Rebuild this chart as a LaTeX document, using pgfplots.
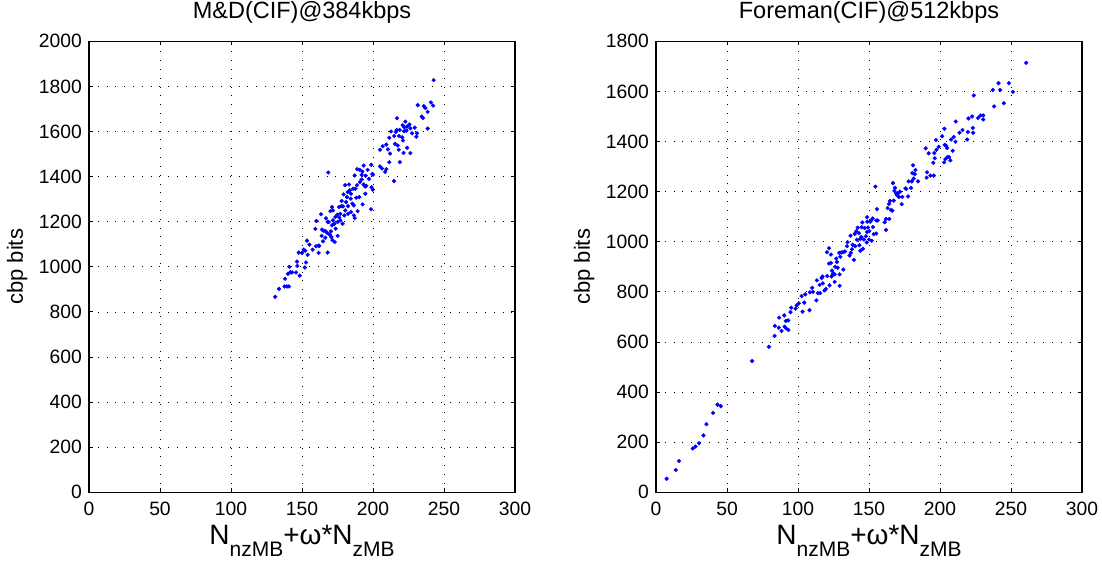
\documentclass[border=0pt]{standalone}
\usepackage{pgfplots}
\pgfplotsset{compat=1.18}
\usepackage{fontspec}
\setmainfont{Liberation Sans}
\definecolor{dotblue}{RGB}{0,0,255}
\pgfplotsset{
  every axis title shift=0pt,
  mlstyle/.style={
    scale only axis,
    width=426pt, height=451pt,
    xmin=0, xmax=300,
    xtick={0,50,...,300},
    ymin=0,
    grid=major,
    grid style={black, line width=0.8pt, dash pattern=on 0.8pt off 8pt},
    axis line style={black, line width=1.2pt},
    tick style={black, line width=0.9pt},
    major tick length=4pt,
    tick align=inside,
    xtick pos=both, ytick pos=both,
    /pgf/number format/assume math mode=true,
    /pgf/number format/1000 sep={},
    tick label style={font=\fontsize{19.3}{19.3}\selectfont},
    xticklabel style={inner sep=0pt, anchor=north, yshift=-10pt},
    yticklabel style={inner sep=0pt, anchor=east, xshift=-7pt},
    title style={font=\fontsize{23.5}{23.5}\selectfont, at={(axis description cs:0.5,1)}, anchor=base, yshift=23pt},
    ylabel style={font=\fontsize{22}{22}\selectfont, at={(axis description cs:-0.155,0.5)}, anchor=base},
    xlabel style={font=\fontsize{28}{28}\selectfont, at={(axis description cs:0.5,-0.1147)}, anchor=base},
    xlabel={N\raisebox{-12pt}{\fontsize{21}{21}\selectfont nzMB}+ω*N\raisebox{-12pt}{\fontsize{21}{21}\selectfont zMB}},
    ylabel={cbp bits},
  }
}
\begin{document}
\begin{tikzpicture}
\useasboundingbox (0,0) rectangle (1102pt,563pt);
\begin{axis}[mlstyle, at={(89pt,70.7pt)}, anchor=south west,
  ymax=2000, ytick={0,200,...,2000},
  title={M\&D(CIF)@384kbps}]
\addplot[only marks, mark=*, mark size=1.9pt, mark options={draw=dotblue, fill=dotblue}] table {
242.7 1828
231.5 1717
240.8 1729
242.3 1715
235.7 1713
236.9 1704
238.5 1687
234.3 1666
235.2 1660
238.5 1613
216.9 1659
222.8 1644
225.6 1631
220.9 1628
224.0 1622
222.1 1619
226.3 1614
218.8 1607
216.7 1607
212.7 1600
216.0 1598
221.9 1601
223.6 1604
227.5 1592
229.4 1617
231.0 1592
230.5 1577
218.3 1580
220.6 1574
221.1 1560
215.0 1580
211.5 1572
215.5 1545
209.4 1542
206.8 1535
204.9 1519
210.5 1521
217.4 1538
218.1 1519
224.0 1528
221.5 1505
226.3 1504
212.0 1502
218.9 1464
211.5 1464
204.9 1445
206.3 1436
208.5 1421
209.4 1433
214.8 1380
168.5 1418
198.8 1452
199.5 1412
200.0 1409
193.4 1449
190.6 1430
192.5 1422
196.2 1430
194.8 1404
197.2 1390
188.8 1433
187.1 1405
192.0 1408
192.0 1387
190.8 1376
193.4 1365
194.4 1356
195.3 1359
188.8 1362
187.6 1346
186.0 1346
183.1 1365
180.3 1362
183.6 1339
199.0 1353
199.9 1342
194.6 1324
184.5 1324
182.2 1331
179.3 1321
190.3 1309
188.2 1306
184.3 1302
181.7 1309
181.0 1287
177.9 1292
176.1 1265
182.4 1269
178.9 1268
185.5 1280
186.5 1272
192.7 1277
189.2 1247
184.5 1243
182.4 1235
180.5 1250
177.7 1269
171.1 1265
171.8 1250
177.0 1235
174.9 1231
179.8 1228
186.5 1228
187.1 1216
198.6 1255
170.0 1247
166.9 1215
163.4 1233
173.5 1221
176.3 1218
175.1 1199
177.0 1206
178.6 1191
172.8 1191
171.8 1206
168.8 1199
171.1 1184
168.1 1199
173.7 1169
160.1 1203
159.4 1168
164.1 1165
165.3 1159
166.5 1159
170.4 1157
167.8 1150
169.5 1143
163.8 1137
175.1 1137
166.4 1129
170.7 1132
171.4 1118
173.1 1110
168.1 1063
164.8 1113
162.2 1093
159.9 1091
161.5 1094
155.2 1098
153.5 1116
157.5 1076
161.7 1062
151.2 1076
152.3 1071
147.7 1063
150.0 1062
154.0 1053
152.8 1019
146.5 1023
146.7 1004
152.0 997
141.1 1000
141.8 976
143.0 975
140.1 969
145.8 975
148.4 961
138.0 947
137.7 913
139.4 913
140.8 913
133.8 902
131.1 867
};
\end{axis}
\begin{axis}[mlstyle, at={(656pt,70.7pt)}, anchor=south west,
  ymax=1800, ytick={0,200,...,1800},
  title={Foreman(CIF)@512kbps}]
\addplot[only marks, mark=*, mark size=1.9pt, mark options={draw=dotblue, fill=dotblue}] table {
7.5 54
13.9 89
16.2 125
25.9 175
27.8 183
30.3 196
33.4 227
35.5 272
40.2 317
43.3 350
45.6 344
67.7 524
79.5 581
83.5 624
83.7 664
86.7 697
86.5 657
88.4 644
90.3 706
90.5 661
91.4 684
93.1 686
91.7 654
93.3 648
94.7 719
95.2 737
98.3 733
99.0 746
100.6 754
103.2 721
102.5 783
104.4 757
105.1 790
108.1 727
108.4 798
110.0 816
110.5 800
112.9 766
113.3 846
114.0 795
115.6 795
115.2 828
116.6 855
117.5 834
117.3 861
118.7 806
119.6 812
120.4 958
121.8 974
121.8 913
120.6 863
122.2 826
123.2 915
123.2 949
123.6 861
123.9 885
124.4 868
124.8 874
125.8 870
125.8 840
126.2 900
126.9 933
127.4 919
127.9 896
129.3 824
129.3 870
129.0 956
129.8 940
130.5 957
131.7 958
131.9 889
133.0 961
134.5 982
134.9 998
136.3 945
137.0 1024
137.2 956
138.0 970
138.5 988
139.4 928
139.9 1031
140.3 982
141.0 1042
141.5 1008
142.0 1056
142.9 1034
143.2 986
143.9 1011
143.9 964
144.6 1019
144.8 1058
145.3 1077
145.7 972
146.4 1009
146.9 1055
147.9 1022
148.4 997
148.6 1098
148.6 1039
148.8 1080
149.3 1057
150.0 1009
150.2 1042
150.9 1080
151.6 1086
151.9 1004
152.6 1093
152.8 1059
153.3 1030
154.5 1220
155.1 1085
155.6 1130
156.1 1085
155.1 1033
161.0 1078
162.0 1091
162.0 1047
163.1 1134
164.1 1151
164.3 1091
164.8 1163
165.5 1127
166.4 1124
166.9 1234
167.4 1164
167.9 1203
168.3 1215
169.2 1192
169.9 1185
170.4 1194
171.1 1179
171.8 1200
173.0 1150
173.5 1179
175.6 1213
176.3 1211
177.5 1181
177.9 1241
179.6 1215
180.1 1241
180.5 1274
181.0 1305
181.5 1252
182.2 1270
182.7 1286
184.5 1241
189.9 1373
190.6 1256
190.9 1277
192.0 1353
193.2 1264
195.3 1315
195.6 1264
196.0 1354
196.3 1333
197.2 1406
197.5 1367
199.1 1379
201.5 1421
202.9 1317
203.1 1451
203.3 1387
203.8 1330
204.3 1383
205.0 1374
205.2 1338
206.4 1338
207.3 1325
207.8 1408
208.9 1363
209.7 1418
210.9 1399
211.1 1480
213.7 1435
215.8 1446
219.1 1408
219.6 1438
220.0 1492
222.6 1500
223.1 1454
223.3 1435
223.8 1584
226.8 1494
228.5 1504
230.4 1504
230.4 1488
237.2 1606
238.1 1540
241.2 1633
242.4 1606
244.9 1553
248.5 1633
251.3 1598
260.7 1714
};
\end{axis}
\end{tikzpicture}
\end{document}
